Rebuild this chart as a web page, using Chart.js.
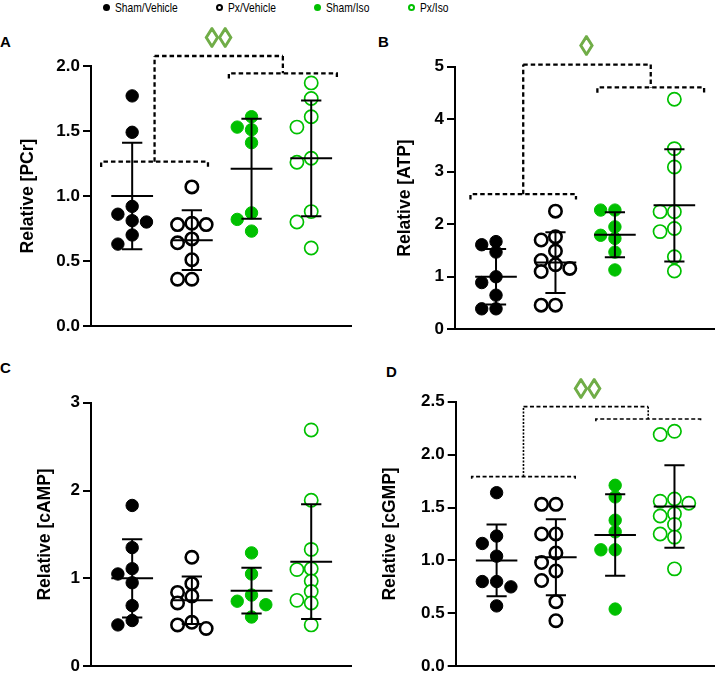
<!DOCTYPE html>
<html>
<head>
<meta charset="utf-8">
<script src="https://cdn.jsdelivr.net/npm/chart.js@4/dist/chart.umd.min.js"></script>
<style>
  body { margin: 0; width: 723px; height: 675px; position: relative; overflow: hidden; background: #fff; font-family: "Liberation Sans", Arial, sans-serif; }
  .panel { position: absolute; }
  .tag { position: absolute; font-weight: bold; font-size: 15px; color: #000; line-height: 1; }
  .leg { position: absolute; top: 0; height: 14px; display: flex; align-items: center; }
  .dot { width: 7px; height: 7px; border-radius: 50%; box-sizing: border-box; margin-right: 5px; flex: none; }
  .leg span { font-size: 13.5px; transform: scaleX(0.76); transform-origin: left center; white-space: nowrap; }
</style>
</head>
<body>
<div class="leg" style="left:103px"><div class="dot" style="background:#000"></div><span>Sham/Vehicle</span></div>
<div class="leg" style="left:216px"><div class="dot" style="border:2px solid #000"></div><span>Px/Vehicle</span></div>
<div class="leg" style="left:314px"><div class="dot" style="background:#00c000"></div><span>Sham/Iso</span></div>
<div class="leg" style="left:408px"><div class="dot" style="border:2px solid #00c000"></div><span>Px/Iso</span></div>

<div class="tag" style="left:0px;top:34px">A</div>
<div class="tag" style="left:378px;top:34px">B</div>
<div class="tag" style="left:0px;top:360px">C</div>
<div class="tag" style="left:386px;top:364px">D</div>

<canvas id="pA" class="panel" style="left:0px;top:20px" width="360" height="320"></canvas>
<canvas id="pB" class="panel" style="left:362px;top:20px" width="361" height="320"></canvas>
<canvas id="pC" class="panel" style="left:0px;top:340px" width="360" height="335"></canvas>
<canvas id="pD" class="panel" style="left:362px;top:340px" width="361" height="335"></canvas>

<script>
const groups = ['Sham/Vehicle', 'Px/Vehicle', 'Sham/Iso', 'Px/Iso']
const GREEN = '#00c000'
const MARK_GREEN = '#70ad47'
const FONT = '"Liberation Sans", Arial, sans-serif'

// A - PCr
const pcrShamVeh = [1.77, 1.49, 0.92, 0.86, 0.81, 0.80, 0.70, 0.63]
const pcrPxVeh = [1.07, 0.79, 0.78, 0.78, 0.67, 0.64, 0.51, 0.36, 0.36]
const pcrShamIso = [1.61, 1.53, 1.51, 1.41, 0.87, 0.82, 0.73]
const pcrPxIso = [1.87, 1.75, 1.61, 1.53, 1.29, 1.26, 0.88, 0.80, 0.60]
const pcrMean = [1.00, 0.66, 1.21, 1.29]
const pcrSd = [0.41, 0.23, 0.385, 0.445]
const pcrBracketLeft = [-0.52, 1.27, 1.264]
const pcrBracketRight = [1.62, 3.43, 1.944]
const pcrBracketTop = 2.077
const pcrMarkAt = [1.447, 2.2]

// B - ATP
const atpShamVeh = [1.67, 1.61, 1.47, 1.00, 0.89, 0.65, 0.39, 0.39]
const atpPxVeh = [2.25, 1.76, 1.70, 1.49, 1.31, 1.23, 1.16, 1.10, 0.46, 0.46]
const atpShamIso = [2.27, 2.27, 1.95, 1.79, 1.73, 1.47, 1.13]
const atpPxIso = [4.38, 3.44, 3.09, 2.24, 2.24, 1.92, 1.86, 1.38, 1.11]
const atpMean = [1.00, 1.27, 1.80, 2.36]
const atpSd = [0.53, 0.58, 0.43, 1.07]
const atpBracketLeft = [-0.43, 1.345, 2.573]
const atpBracketRight = [1.705, 3.50, 4.606]
const atpBracketTop = 5.04
const atpMarkAt = [1.52, 5.37]

// C - cAMP
const campShamVeh = [1.83, 1.35, 1.11, 1.05, 0.95, 0.69, 0.52, 0.47]
const campPxVeh = [1.24, 0.94, 0.84, 0.80, 0.72, 0.50, 0.47, 0.43]
const campShamIso = [1.29, 1.05, 0.81, 0.74, 0.70, 0.56]
const campPxIso = [2.69, 1.89, 1.33, 1.11, 1.10, 0.97, 0.85, 0.75, 0.72, 0.47]
const campMean = [1.00, 0.75, 0.86, 1.19]
const campSd = [0.445, 0.27, 0.26, 0.653]

// D - cGMP
const cgmpShamVeh = [1.64, 1.23, 1.16, 1.04, 0.80, 0.80, 0.75, 0.57]
const cgmpPxVeh = [1.53, 1.53, 1.25, 1.25, 1.07, 0.98, 0.90, 0.81, 0.61, 0.43]
const cgmpShamIso = [1.71, 1.60, 1.38, 1.27, 1.10, 1.10, 0.54]
const cgmpPxIso = [2.22, 2.19, 1.58, 1.56, 1.54, 1.44, 1.42, 1.34, 1.25, 1.22, 0.92]
const cgmpMean = [1.00, 1.03, 1.24, 1.51]
const cgmpSd = [0.34, 0.36, 0.385, 0.39]
const cgmpBracketLeft = [-0.42, 1.326, 1.792]
const cgmpBracketRight = [1.674, 3.44, 2.336]
const cgmpBracketTop = 2.453
const cgmpMarkAt = [1.533, 2.61]

const markStyle = [
  { bg: '#000', border: '#000', r: 6.2, bw: 1 },
  { bg: '#fff', border: '#000', r: 6.2, bw: 2.6 },
  { bg: GREEN, border: GREEN, r: 6.2, bw: 1 },
  { bg: '#fff', border: GREEN, r: 6.6, bw: 1.7 },
]

// draws the significance symbol above the brackets
const markPlugin = {
  id: 'sigMark',
  afterDatasetsDraw(chart, args, opts) {
    if (!opts.text) return
    const { ctx, scales } = chart
    const x = scales.x.getPixelForValue(opts.at[0])
    const y = scales.y.getPixelForValue(opts.at[1])
    ctx.save()
    ctx.font = opts.font
    ctx.fillStyle = opts.color
    ctx.strokeStyle = opts.color
    ctx.lineWidth = 1.3
    ctx.textAlign = 'center'
    ctx.textBaseline = 'middle'
    ctx.fillText(opts.text, x, y)
    ctx.strokeText(opts.text, x, y)
    ctx.restore()
  },
}

function segment(pts, extra) {
  return Object.assign({
    type: 'scatter',
    data: pts.map(([x, y]) => ({ x, y })),
    showLine: true,
    pointRadius: 0,
    borderColor: '#000',
    borderWidth: 2,
    tension: 0,
    order: 0,
  }, extra)
}

function swarm(chart, values, slot, minDist) {
  const xs = chart.scales.x
  const ys = chart.scales.y
  const unit = xs.getPixelForValue(1) - xs.getPixelForValue(0)
  const order = values.map((v, i) => i).sort((a, b) => values[b] - values[a])
  const placed = []
  const offs = values.map(() => 0)
  for (const i of order) {
    const py = ys.getPixelForValue(values[i])
    for (let k = 0; k < 15; k++) {
      const s = k === 0 ? 0 : (k % 2 ? -Math.ceil(k / 2) : k / 2)
      const px = s * slot
      if (placed.every((p) => (p.x - px) ** 2 + (p.y - py) ** 2 >= minDist * minDist)) {
        placed.push({ x: px, y: py })
        offs[i] = px / unit
        break
      }
    }
  }
  return offs
}

function makePanel(cfg) {
  const datasets = []

  cfg.series.forEach((vals, g) => {
    const st = markStyle[g]
    datasets.push({
      type: 'scatter',
      label: groups[g],
      data: vals.map((v) => ({ x: g, y: v })),
      pointRadius: st.r,
      pointBackgroundColor: st.bg,
      pointBorderColor: st.border,
      pointBorderWidth: st.bw,
      order: 1,
    })
  })

  cfg.mean.forEach((m, g) => {
    const hi = m + cfg.sd[g]
    const lo = m - cfg.sd[g]
    datasets.push(segment([[g, lo], [g, hi]]))
    datasets.push(segment([[g - 0.17, hi], [g + 0.17, hi]]))
    datasets.push(segment([[g - 0.17, lo], [g + 0.17, lo]]))
    datasets.push(segment([[g - 0.35, m], [g + 0.35, m]]))
  })

  if (cfg.bracketLeft) {
    const drop = cfg.max * cfg.dropFrac
    const dash = { borderDash: cfg.dash, borderWidth: cfg.dashW, clip: false, order: 2 }
    const riser = Object.assign({}, dash, cfg.riserDash ? { borderDash: cfg.riserDash } : {})
    const [l0, l1, ly] = cfg.bracketLeft
    const [r0, r1, ry] = cfg.bracketRight
    const top = cfg.bracketTop
    const lc = (l0 + l1) / 2
    const rc = (r0 + r1) / 2
    datasets.push(segment([[l0, ly - drop], [l0, ly], [l1, ly], [l1, ly - drop]], dash))
    datasets.push(segment([[r0, ry - drop], [r0, ry], [r1, ry], [r1, ry - drop]], dash))
    datasets.push(segment([[lc, ly], [lc, top]], riser))
    datasets.push(segment([[lc, top], [rc, top]], dash))
    datasets.push(segment([[rc, top], [rc, ry]], riser))
  }

  const chart = new Chart(document.getElementById(cfg.id), {
    type: 'scatter',
    data: { datasets },
    plugins: [markPlugin],
    options: {
      responsive: false,
      animation: false,
      events: [],
      layout: { padding: cfg.padding },
      plugins: {
        legend: { display: false },
        tooltip: { enabled: false },
        sigMark: { text: cfg.mark, at: cfg.markAt, color: MARK_GREEN, font: '27px ' + FONT },
      },
      scales: {
        x: {
          type: 'linear',
          min: -0.69,
          max: 3.67,
          ticks: { display: false },
          grid: { display: false, drawTicks: false },
          border: { display: true, color: '#000', width: 2 },
          afterFit(s) { s.height = 0; s.paddingLeft = 0; s.paddingRight = 0 },
        },
        y: {
          min: 0,
          max: cfg.max,
          ticks: {
            stepSize: cfg.step,
            color: '#000',
            padding: 3,
            font: { family: FONT, size: 17, weight: 'bold' },
            callback: (v) => v.toFixed(cfg.dec),
          },
          grid: { display: true, drawOnChartArea: false, drawTicks: true, tickLength: 8, color: '#000', lineWidth: 2 },
          border: { display: true, color: '#000', width: 2 },
          title: {
            display: true,
            text: cfg.title,
            color: '#000',
            font: { family: FONT, size: 17.5, weight: 'bold' },
            padding: { top: cfg.titlePad, bottom: 0 },
          },
          afterFit(s) { s.width = cfg.axisW; s.paddingTop = 0; s.paddingBottom = 0 },
        },
      },
    },
  })

  cfg.series.forEach((vals, g) => {
    const offs = swarm(chart, vals, 14.3, 10.5)
    chart.data.datasets[g].data = vals.map((v, i) => ({ x: g + offs[i], y: v }))
  })
  chart.update('none')
  return chart
}

makePanel({
  id: 'pA', title: 'Relative [PCr]',
  series: [pcrShamVeh, pcrPxVeh, pcrShamIso, pcrPxIso], mean: pcrMean, sd: pcrSd,
  max: 2, step: 0.5, dec: 1,
  bracketLeft: pcrBracketLeft, bracketRight: pcrBracketRight, bracketTop: pcrBracketTop,
  mark: '\u25CA\u25CA', markAt: pcrMarkAt,
  dash: [4.5, 3], dashW: 2.3, dropFrac: 0.02,
  padding: { left: 0, top: 46, right: 7, bottom: 14 }, axisW: 91, titlePad: 17.5,
})

makePanel({
  id: 'pB', title: 'Relative [ATP]',
  series: [atpShamVeh, atpPxVeh, atpShamIso, atpPxIso], mean: atpMean, sd: atpSd,
  max: 5, step: 1, dec: 0,
  bracketLeft: atpBracketLeft, bracketRight: atpBracketRight, bracketTop: atpBracketTop,
  mark: '\u25CA', markAt: atpMarkAt,
  dash: [4.5, 3], dashW: 2.3, dropFrac: 0.02,
  padding: { left: 0, top: 46.7, right: 3, bottom: 10.7 }, axisW: 93, titlePad: 32.8,
})

makePanel({
  id: 'pC', title: 'Relative [cAMP]',
  series: [campShamVeh, campPxVeh, campShamIso, campPxIso], mean: campMean, sd: campSd,
  max: 3, step: 1, dec: 0,
  padding: { left: 0, top: 62.7, right: 8, bottom: 8.3 }, axisW: 91, titlePad: 34.3,
})

makePanel({
  id: 'pD', title: 'Relative [cGMP]',
  series: [cgmpShamVeh, cgmpPxVeh, cgmpShamIso, cgmpPxIso], mean: cgmpMean, sd: cgmpSd,
  max: 2.5, step: 0.5, dec: 1,
  bracketLeft: cgmpBracketLeft, bracketRight: cgmpBracketRight, bracketTop: cgmpBracketTop,
  mark: '\u25CA\u25CA', markAt: cgmpMarkAt,
  dash: [4, 2.5], dashW: 1.6, dropFrac: 0.008, riserDash: [2, 1.5],
  padding: { left: 0, top: 61.7, right: 0, bottom: 8.3 }, axisW: 93.7, titlePad: 17.8,
})
</script>
</body>
</html>
